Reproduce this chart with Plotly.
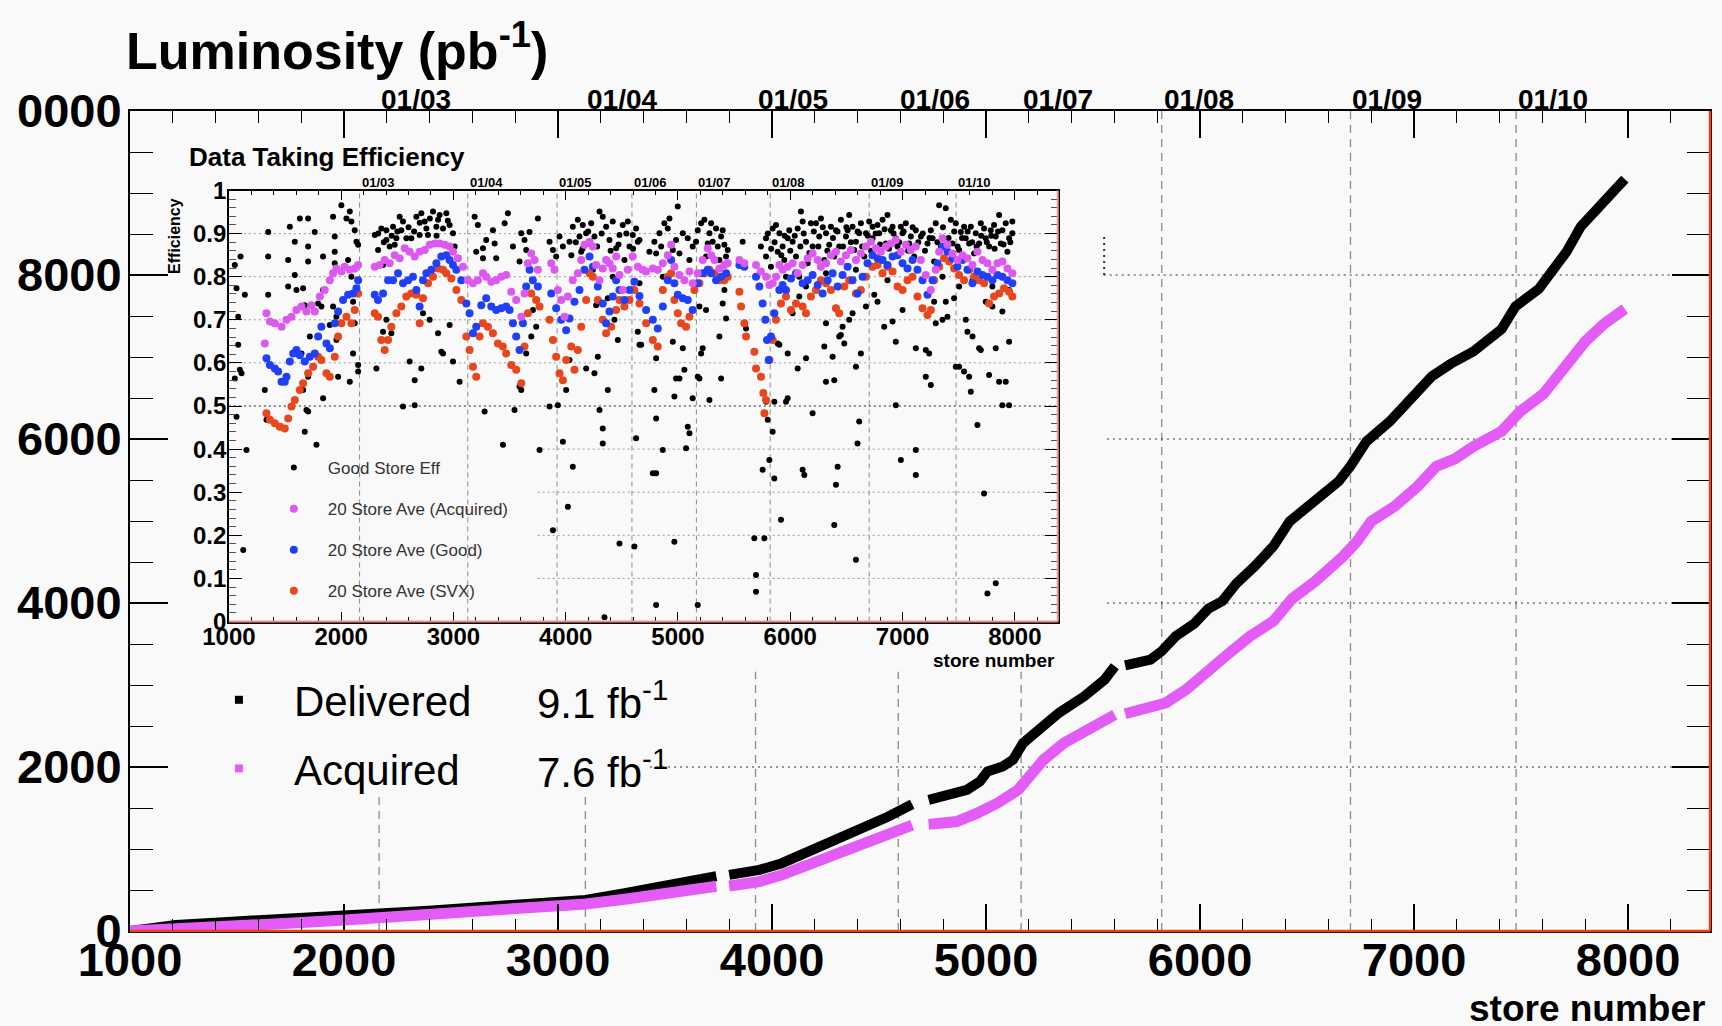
import plotly.graph_objects as go

# ---------------- data: main cumulative luminosity (pb^-1) ----------------
DEL_STORE = [1000, 1215, 1477, 1740, 2002, 2185, 2395, 2657, 2919, 3129,
             3312, 3469, 3601, 3740, None, 3800, 3941, 4046, 4151, 4282,
             4413, 4544, 4655, None, 4732, 4816, 4911, 4971, 5007, 5078,
             5126, 5173, 5245, 5340, 5459, 5554, 5602, None, 5650, 5769,
             5821, 5887, 5973, 6038, 6104, 6169, 6256, 6343, 6419, 6539,
             6648, 6702, 6778, 6887, 6974, 7083, 7170, 7278, 7409, 7474,
             7583, 7626, 7713, 7779, 7866, 7931, 7985]
DEL_LUMI = [0, 73, 114, 143, 183, 216, 248, 289, 338, 379,
            460, 521, 602, 668, None, 684, 745, 827, 949, 1071,
            1234, 1396, 1545, None, 1600, 1661, 1722, 1824, 1946, 2007,
            2088, 2292, 2455, 2659, 2862, 3065, 3228, None, 3240, 3310,
            3413, 3596, 3748, 3930, 4022, 4236, 4448, 4692, 4996, 5240,
            5484, 5667, 5971, 6215, 6458, 6763, 6915, 7068, 7341, 7616,
            7829, 7981, 8285, 8590, 8834, 9017, 9170]

ACQ_STORE = [1000, 1215, 1477, 1740, 2002, 2185, 2395, 2657, 2919, 3129,
             3312, 3469, 3601, 3740, None, 3800, 3941, 4046, 4151, 4282,
             4413, 4544, 4655, None, 4732, 4863, 4959, 5054, 5150, 5197,
             5269, 5364, 5483, 5602, None, 5650, 5756, 5840, 5935, 6045,
             6147, 6234, 6343, 6430, 6539, 6669, 6734, 6800, 6909, 7017,
             7104, 7191, 7278, 7409, 7496, 7605, 7713, 7800, 7887, 7985]
ACQ_LUMI = [0, 20, 53, 94, 134, 167, 195, 236, 277, 330,
            387, 440, 501, 545, None, 548, 602, 684, 786, 908,
            1030, 1172, 1290, None, 1300, 1335, 1437, 1560, 1722, 1885,
            2088, 2292, 2455, 2638, None, 2650, 2720, 2781, 2943, 3200,
            3413, 3596, 3779, 4052, 4266, 4570, 4753, 4996, 5178, 5423,
            5667, 5758, 5910, 6093, 6336, 6550, 6884, 7189, 7402, 7585]

LEGEND_NAMES = ["Delivered", "Acquired"]
LEGEND_TOTALS = ["9.1 fb<sup>-1</sup>", "7.6 fb<sup>-1</sup>"]

# ---------------- data: inset efficiency ----------------
EFF_STORE = [
    1053, 1104, 1142, 1068, 1083, 1083, 1053, 1098, 1113, 1068,
    1157, 1128, 1350, 1350, 1320, 1335, 1350, 1543, 1587, 1528,
    1587, 1528, 1602, 1632, 1706, 1706, 1765, 1706, 1661, 1676,
    1721, 1647, 1706, 1661, 1691, 1706, 1676, 1780, 1795, 1839,
    1824, 1839, 1839, 1928, 1943, 1943, 2002, 1943, 1899, 1943,
    1958, 1973, 1958, 1928, 2047, 2091, 2121, 2136, 2062, 2091,
    2106, 2121, 2077, 2106, 2151, 2151, 2151, 2077, 2299, 2329,
    2358, 2403, 2462, 2521, 2551, 2536, 2492, 2477, 2373, 2403,
    2314, 2403, 2373, 2447, 2551, 2655, 2655, 2610, 2714, 2625,
    2670, 2714, 2744, 2759, 2699, 2818, 2877, 2937, 2966, 2848,
    2907, 2729, 2788, 2863, 2892, 2907, 2966, 2996, 3055, 3011,
    3189, 3218, 3263, 3292, 3203, 3352, 3367, 3456, 3485, 3530,
    3604, 3633, 3678, 3752, 3648, 3589, 3381, 3263, 3278, 3441,
    3544, 3604, 3589, 3767, 3693, 3737, 3648, 3708, 3856, 3886,
    3915, 3945, 3975, 4034, 4063, 4108, 4152, 4182, 4227, 4301,
    4360, 4390, 4449, 4508, 4553, 4597, 4642, 3856, 3930, 3975,
    4004, 4063, 4019, 3886, 4182, 4256, 4286, 4301, 4330, 4330,
    4375, 4479, 4612, 4627, 4642, 4657, 4434, 4375, 4464, 4271,
    4034, 4345, 4123, 4197, 4256, 4330, 4419, 4479, 4568, 4627,
    4138, 4523, 4419, 4242, 2432, 2581, 2773, 2863, 2996,
    4657, 4657, 4672, 4790, 4805, 4835, 4879, 4924, 4909, 4998,
    4820, 4865, 4954, 5043, 5087, 5131, 5176, 5206, 5235, 5280,
    5309, 5339, 5384, 5413, 5428, 5369, 5250, 5102, 4805, 4790,
    4805, 4776, 4805, 4865, 4954, 4983, 4968, 5013, 5043, 5057,
    5087, 5102, 5072, 5131, 5176, 5191, 5206, 5220, 5280, 5369,
    5384, 5428, 5398, 5413, 4968, 4805, 5176, 5191, 5250, 5576,
    5606, 5680, 5769, 5695, 5695, 5754, 5814, 5858, 5843, 5799,
    5784, 5858, 5977, 5962, 5903, 5888, 5977, 6066, 6140, 6199,
    6303, 6318, 6392, 6377, 6436, 6451, 6481, 6525, 6585, 6629,
    6614, 6599, 6422, 6407, 6392, 6110, 6125, 5917, 6585, 5739,
    5784, 5843, 5873, 5903, 5932, 5977, 6021, 6066, 6095, 6110,
    6140, 6184, 6229, 6273, 6318, 6362, 6407, 6451, 6496, 6525,
    6555, 6585, 6629, 6674, 6703, 6733, 6777, 6822, 6866, 6896,
    6940, 6985, 7029, 7074, 7118, 7252, 7296, 7326, 7385, 7430,
    7474, 7519, 7563, 7608, 7652, 7697, 7741, 7786, 7830, 7860,
    7889, 7919, 7949, 7978, 5962, 6021, 6080, 6140, 6229, 6318,
    6466, 6555, 6674, 6748, 6777, 6837, 6911, 6940, 7000, 7118,
    7207, 7237, 7252, 7207, 7296, 7356, 7400, 7459, 7474, 7504,
    7548, 7578, 7593, 7608, 7623, 7682, 7697, 7771, 7830, 7860,
    7919, 7889, 7949, 7949, 7800, 7889, 7667, 7563, 7385, 7281,
    7118, 7118, 6985, 6940, 7726, 7756, 7830, 7741, 5784, 5828,
    5888, 5947, 5991, 6051, 6155, 6199, 6258, 6303, 6347, 6392,
    6436, 6511, 6570, 6614, 6659, 6733, 6792, 6851, 6911, 6955,
    7000, 7059, 7104, 7163, 7222, 7267, 7341, 7445, 7504, 7548,
    7593, 7637, 7682, 7726, 7771, 7815, 7875, 7934, 7978, 7281,
    7623, 7800, 7949, 7504, 7356, 6866, 6585, 6318, 6080, 5843,
    4746, 4850, 4983, 5013, 5161, 5265, 5295, 5354, 5398, 5443,
    5800, 5830, 5860, 5920, 5950, 6000, 6040, 6090, 6120, 6170,
    6210, 6250, 6290, 6330, 6380, 6420, 6470, 6500, 6540, 6600,
    6640, 6690, 6720, 6760, 6800, 6840, 6880, 6920, 6970, 7010,
    7050, 7090, 7140, 7180, 7200, 7240, 7310, 7360, 7410, 7460,
    7490, 7530, 7580, 7620, 7660, 7700, 7750, 7790, 7820, 7850,
    7900, 7960, 4050, 4090, 4150, 4200, 4280, 4320, 4400, 4470,
    4540, 4600, 2330, 2380, 2450, 2500, 2600, 2650, 2700, 2790,
    2850, 2950]
EFF_VALUE = [
    .827, .847, .758, .773, .707, .642, .564, .584, .576, .475,
    .398, .166, .847, .758, .537, .468, .904, .916, .881, .839,
    .804, .777, .769, .935, .935, .870, .904, .835, .773, .734,
    .661, .622, .568, .537, .491, .487, .440, .410, .738, .518,
    .731, .769, .847, .939, .893, .858, .966, .831, .688, .614,
    .653, .568, .707, .731, .935, .928, .908, .881, .839, .800,
    .742, .692, .556, .622, .595, .580, .874, .951, .897, .862,
    .912, .908, .916, .939, .928, .908, .889, .874, .827, .885,
    .587, .700, .672, .669, .499, .502, .560, .603, .587, .889,
    .939, .947, .928, .912, .897, .951, .943, .947, .920, .916,
    .912, .715, .700, .669, .626, .622, .688, .603, .556, .870,
    .939, .920, .866, .885, .858, .908, .877, .924, .947, .870,
    .901, .885, .904, .935, .862, .835, .843, .843, .487, .410,
    .491, .537, .545, .398, .661, .684, .622, .723, .881, .862,
    .847, .893, .870, .881, .916, .932, .920, .901, .924, .951,
    .916, .885, .866, .920, .928, .897, .881, .499, .502, .417,
    .537, .359, .266, .212, .587, .576, .614, .491, .448, .413,
    .537, .181, .174, .425, .672, .642, .700, .750, .653, .734,
    .607, .010, .893, .877, .893, .939, .928, .897, .870, .912,
    .858, .839, .800, .816, .870, .889, .897, .932, .901,
    .885, .785, .642, .881, .854, .901, .924, .935, .912, .963,
    .816, .800, .862, .901, .889, .870, .908, .924, .932, .901,
    .881, .912, .893, .874, .847, .839, .847, .839, .611, .537,
    .471, .344, .344, .398, .649, .564, .522, .564, .634, .584,
    .452, .437, .402, .518, .568, .564, .622, .634, .514, .661,
    .564, .703, .738, .769, .185, .038, .038, .731, .723, .881,
    .680, .193, .193, .108, .069, .352, .375, .332, .440, .468,
    .510, .510, .518, .510, .642, .645, .622, .587, .611, .483,
    .638, .556, .560, .614, .661, .665, .645, .700, .591, .622,
    .464, .413, .359, .317, .224, .352, .340, .236, .143, .870,
    .889, .912, .920, .901, .870, .889, .881, .912, .951, .928,
    .881, .924, .924, .935, .901, .916, .908, .932, .893, .943,
    .916, .881, .924, .901, .928, .889, .920, .932, .943, .908,
    .889, .916, .924, .893, .908, .908, .924, .966, .959, .932,
    .924, .904, .889, .916, .901, .924, .889, .908, .893, .943,
    .908, .924, .889, .928, .800, .715, .754, .777, .769, .692,
    .684, .715, .731, .758, .742, .684, .696, .649, .723, .634,
    .630, .622, .549, .568, .692, .700, .707, .750, .591, .591,
    .580, .672, .568, .533, .661, .634, .630, .572, .634, .556,
    .556, .502, .502, .649, .731, .719, .456, .700, .742, .742,
    .398, .340, .375, .502, .297, .065, .089, .742, .847, .823,
    .858, .839, .908, .847, .831, .870, .893, .839, .874, .847,
    .870, .908, .862, .901, .847, .916, .901, .877, .916, .870,
    .901, .877, .847, .893, .877, .889, .870, .877, .862, .916,
    .877, .854, .877, .912, .870, .920, .877, .858, .901, .835,
    .792, .777, .769, .777, .800, .792, .816, .808, .800, .785,
    .858, .870, .885, .854, .881, .877, .924, .870, .908, .862,
    .900, .865, .880, .850, .895, .860, .895, .870, .900, .855,
    .905, .870, .915, .860, .890, .905, .870, .915, .880, .905,
    .870, .895, .860, .900, .875, .910, .865, .900, .880, .905,
    .860, .915, .880, .900, .860, .890, .880, .915, .890, .905,
    .870, .890, .905, .880, .870, .895, .880, .895, .865, .905,
    .875, .880, .850, .880, .865, .905, .870, .900, .860, .875,
    .900, .865, .900, .880, .895, .905, .915, .905, .925, .935,
    .895, .930]

ACQ_AVE_STORE = [
    1320, 1335, 1365, 1409, 1469, 1513, 1558, 1602, 1647, 1691,
    1736, 1765, 1810, 1854, 1899, 1928, 1958, 2002, 2032, 2077,
    2121, 2151, 2299, 2343, 2388, 2432, 2477, 2521, 2566, 2610,
    2655, 2699, 2744, 2788, 2833, 2877, 2922, 2966, 2996, 3040,
    3085, 3129, 3174, 3218, 3263, 3292, 3337, 3381, 3426, 3470,
    3515, 3559, 3604, 3633, 3663, 3693, 3722, 3752, 3871, 3900,
    3930, 3960, 3989, 4019, 4063, 4108, 4138, 4167, 4212, 4242,
    4271, 4301, 4330, 4360, 4390, 4419, 4449, 4479, 4508, 4553,
    4597, 4642, 4686, 4716, 4776, 4820, 4865, 4909, 4939, 4968,
    5013, 5057, 5102, 5131, 5176, 5220, 5265, 5295, 5324, 5369,
    5413, 5443, 5547, 5591, 5695, 5739, 5784, 5814, 5843, 5873,
    5903, 5932, 5977, 6021, 6066, 6110, 6155, 6199, 6244, 6273,
    6318, 6362, 6407, 6451, 6496, 6540, 6585, 6629, 6674, 6718,
    6763, 6807, 6851, 6896, 6940, 6985, 7029, 7074, 7118, 7163,
    7207, 7252, 7296, 7326, 7356, 7400, 7445, 7489, 7534, 7578,
    7623, 7667, 7712, 7756, 7800, 7845, 7889, 7934, 7978]
ACQ_AVE_EFF = [
    .645, .715, .696, .692, .684, .700, .707, .723, .731, .719,
    .734, .719, .754, .769, .792, .808, .819, .812, .823, .816,
    .819, .827, .823, .827, .839, .831, .850, .843, .866, .858,
    .847, .858, .862, .874, .877, .877, .874, .870, .858, .843,
    .823, .792, .785, .792, .808, .800, .788, .792, .800, .804,
    .765, .746, .707, .761, .831, .854, .839, .816, .831, .816,
    .769, .746, .707, .754, .792, .808, .839, .874, .881, .870,
    .827, .792, .819, .839, .831, .819, .847, .804, .769, .816,
    .847, .823, .816, .812, .819, .816, .831, .850, .874, .823,
    .804, .792, .812, .785, .808, .839, .866, .850, .839, .819,
    .827, .831, .839, .831, .827, .812, .800, .781, .785, .800,
    .827, .816, .823, .831, .808, .827, .843, .854, .839, .823,
    .831, .850, .858, .835, .850, .862, .839, .854, .870, .881,
    .866, .858, .870, .877, .885, .858, .874, .862, .870, .839,
    .804, .769, .816, .858, .889, .874, .854, .839, .850, .843,
    .827, .858, .839, .831, .816, .831, .835, .819, .808]

GOOD_AVE_STORE = [
    1335, 1365, 1409, 1439, 1469, 1498, 1513, 1543, 1573, 1602,
    1632, 1676, 1721, 1765, 1795, 1824, 1869, 1899, 1943, 1973,
    2017, 2062, 2106, 2136, 2151, 2299, 2328, 2373, 2418, 2462,
    2507, 2551, 2596, 2640, 2670, 2699, 2729, 2759, 2803, 2848,
    2892, 2937, 2966, 2996, 3026, 3070, 3115, 3144, 3174, 3203,
    3248, 3292, 3337, 3381, 3426, 3470, 3500, 3530, 3559, 3589,
    3619, 3648, 3678, 3707, 3752, 3871, 3915, 3960, 4004, 4034,
    4078, 4123, 4167, 4212, 4242, 4286, 4330, 4360, 4390, 4419,
    4449, 4479, 4523, 4568, 4612, 4657, 4716, 4776, 4820, 4865,
    4909, 4939, 4968, 4998, 5043, 5087, 5131, 5176, 5220, 5265,
    5295, 5339, 5384, 5428, 5547, 5591, 5695, 5725, 5754, 5778,
    5793, 5808, 5828, 5858, 5903, 5932, 5962, 6006, 6051, 6110,
    6155, 6199, 6244, 6288, 6333, 6377, 6422, 6466, 6511, 6555,
    6599, 6644, 6688, 6733, 6777, 6822, 6866, 6911, 6955, 7000,
    7044, 7089, 7133, 7178, 7222, 7267, 7311, 7356, 7400, 7445,
    7489, 7534, 7578, 7623, 7667, 7712, 7756, 7800, 7845, 7889,
    7934, 7978]
GOOD_AVE_EFF = [
    .611, .595, .587, .580, .556, .556, .568, .603, .622, .630,
    .618, .603, .614, .622, .661, .684, .645, .634, .692, .719,
    .746, .758, .761, .773, .792, .758, .746, .761, .792, .792,
    .808, .785, .792, .800, .769, .731, .792, .808, .816, .831,
    .847, .850, .839, .827, .816, .792, .738, .715, .669, .684,
    .734, .750, .731, .723, .727, .731, .723, .692, .661, .630,
    .692, .777, .816, .792, .777, .761, .727, .700, .676, .703,
    .742, .769, .816, .847, .823, .777, .738, .692, .719, .754,
    .792, .769, .746, .769, .788, .755, .723, .700, .680, .731,
    .792, .839, .785, .758, .750, .746, .723, .785, .808, .816,
    .808, .792, .800, .808, .827, .823, .800, .777, .738, .700,
    .653, .607, .661, .715, .769, .781, .769, .796, .808, .785,
    .792, .804, .781, .761, .792, .808, .777, .804, .823, .792,
    .761, .800, .831, .850, .843, .839, .827, .847, .850, .831,
    .819, .839, .816, .792, .758, .792, .831, .870, .858, .843,
    .823, .839, .816, .785, .812, .804, .800, .792, .804, .800,
    .792, .785]

SVX_AVE_STORE = [
    1335, 1365, 1409, 1454, 1498, 1528, 1558, 1587, 1632, 1661,
    1706, 1750, 1795, 1824, 1869, 1899, 1943, 1973, 2002, 2047,
    2091, 2121, 2151, 2299, 2328, 2358, 2388, 2418, 2447, 2492,
    2536, 2580, 2625, 2670, 2699, 2729, 2774, 2818, 2863, 2907,
    2937, 2981, 3026, 3070, 3115, 3144, 3174, 3203, 3233, 3263,
    3307, 3352, 3396, 3440, 3470, 3515, 3559, 3604, 3633, 3663,
    3693, 3737, 3767, 3856, 3886, 3915, 3945, 3975, 4004, 4049,
    4078, 4108, 4138, 4182, 4212, 4242, 4286, 4330, 4360, 4405,
    4449, 4479, 4523, 4568, 4612, 4657, 4716, 4776, 4820, 4865,
    4909, 4939, 4968, 4998, 5028, 5072, 5102, 5146, 5191, 5235,
    5280, 5324, 5369, 5413, 5443, 5547, 5562, 5591, 5606, 5680,
    5695, 5739, 5760, 5770, 5784, 5814, 5843, 5873, 5917, 5962,
    6006, 6051, 6110, 6140, 6184, 6229, 6273, 6318, 6362, 6407,
    6436, 6481, 6525, 6585, 6629, 6674, 6733, 6777, 6822, 6866,
    6911, 6955, 7000, 7044, 7089, 7133, 7178, 7222, 7252, 7281,
    7326, 7370, 7415, 7459, 7504, 7548, 7593, 7637, 7682, 7726,
    7771, 7815, 7860, 7904, 7949, 7978]
SVX_AVE_EFF = [
    .483, .468, .460, .452, .448, .471, .499, .514, .537, .553,
    .576, .591, .614, .607, .576, .568, .614, .661, .692, .707,
    .692, .723, .761, .715, .707, .653, .630, .653, .684, .715,
    .731, .754, .761, .758, .692, .750, .785, .800, .819, .816,
    .808, .796, .769, .746, .661, .630, .591, .568, .661, .692,
    .684, .669, .645, .638, .622, .595, .584, .553, .638, .715,
    .761, .746, .731, .700, .653, .614, .576, .560, .607, .638,
    .584, .630, .684, .746, .808, .800, .746, .700, .669, .684,
    .723, .746, .731, .746, .769, .738, .692, .653, .638, .769,
    .800, .808, .746, .715, .692, .684, .707, .769, .785, .808,
    .816, .808, .792, .792, .800, .765, .731, .692, .661, .626,
    .587, .568, .530, .483, .514, .607, .653, .700, .738, .754,
    .723, .738, .731, .715, .754, .769, .792, .785, .769, .727,
    .715, .777, .792, .761, .769, .800, .823, .827, .808, .823,
    .812, .777, .769, .792, .800, .754, .727, .711, .723, .792,
    .823, .843, .835, .819, .804, .792, .816, .800, .792, .785,
    .738, .754, .761, .773, .765, .754]

INSET_NAMES = ["Good Store Eff", "20 Store Ave (Acquired)",
               "20 Store Ave (Good)", "20 Store Ave (SVX)"]

# store number at which each year starts
DATE_STORES = [2164, 3128, 3923, 4590, 5164, 5821, 6703, 7477]
DATE_LABELS = ["01/03", "01/04", "01/05", "01/06", "01/07", "01/08", "01/09", "01/10"]

X_TICKS = [1000, 2000, 3000, 4000, 5000, 6000, 7000, 8000]
Y_TICKS = [0, 2000, 4000, 6000, 8000, 10000]
Y_TICKTEXT = ["0", "2000", "4000", "6000", "8000", "0000"]
EFF_TICKS = [0, 0.1, 0.2, 0.3, 0.4, 0.5, 0.6, 0.7, 0.8, 0.9, 1]
EFF_TICKTEXT = ["0", "0.1", "0.2", "0.3", "0.4", "0.5", "0.6", "0.7", "0.8", "0.9", "1"]

# ---------------- layout geometry ----------------
W, H = 1722, 1026
ML, MR, MT, MB = 130, 10, 111, 95
PW, PH = W - ML - MR, H - MT - MB
XMAX = 8383


def fx(p):
    return (p - ML) / PW


def fy(p):
    return (H - MB - p) / PH


FONT = "Liberation Sans, Arial, Helvetica, sans-serif"
BG = "#f9f9f9"
MAG = "#e35cf5"
MAG_IN = "#dc58f0"
BLUE = "#2040f8"
RED = "#e8461c"
FRAME_RED = "#e5431a"
DASH_GREY = "#8a8a8a"

fig = go.Figure()

fig.add_trace(go.Scatter(x=DEL_STORE, y=DEL_LUMI, mode="lines",
                         line=dict(color="black", width=10), showlegend=False,
                         hoverinfo="skip", xaxis="x", yaxis="y"))
fig.add_trace(go.Scatter(x=ACQ_STORE, y=ACQ_LUMI, mode="lines",
                         line=dict(color=MAG, width=11), showlegend=False,
                         hoverinfo="skip", xaxis="x", yaxis="y"))
for name, col, grp in zip(LEGEND_NAMES, ["black", MAG], ["g_del", "g_acq"]):
    fig.add_trace(go.Scatter(x=[None], y=[None], mode="markers", name=name,
                             marker=dict(symbol="square", size=8, color=col),
                             legend="legend", legendgroup=grp,
                             xaxis="x", yaxis="y"))

fig.add_trace(go.Scatter(x=EFF_STORE, y=EFF_VALUE, mode="markers", name=INSET_NAMES[0],
                         marker=dict(color="black", size=6), legend="legend2",
                         legendgroup="i1", legendrank=1, xaxis="x2", yaxis="y2"))
fig.add_trace(go.Scatter(x=SVX_AVE_STORE, y=SVX_AVE_EFF, mode="markers", name=INSET_NAMES[3],
                         marker=dict(color=RED, size=8), legend="legend2",
                         legendgroup="i4", legendrank=4, xaxis="x2", yaxis="y2"))
fig.add_trace(go.Scatter(x=GOOD_AVE_STORE, y=GOOD_AVE_EFF, mode="markers", name=INSET_NAMES[2],
                         marker=dict(color=BLUE, size=8), legend="legend2",
                         legendgroup="i3", legendrank=3, xaxis="x2", yaxis="y2"))
fig.add_trace(go.Scatter(x=ACQ_AVE_STORE, y=ACQ_AVE_EFF, mode="markers", name=INSET_NAMES[1],
                         marker=dict(color=MAG_IN, size=8), legend="legend2",
                         legendgroup="i2", legendrank=2, xaxis="x2", yaxis="y2"))

shapes = []
main_dash_top = [1637, 1637, 3163, 3163, 3163, 10000, 10000, 10000]
for s, top in zip(DATE_STORES, main_dash_top):
    shapes.append(dict(type="line", xref="x", yref="y", x0=s, x1=s, y0=0, y1=top,
                       line=dict(color=DASH_GREY, width=1.3, dash="8px,6px"), layer="below"))
for yv, x0 in [(2000, 3430), (4000, 5565), (6000, 5565), (8000, 5550)]:
    shapes.append(dict(type="line", xref="x", yref="y", x0=x0, x1=XMAX, y0=yv, y1=yv,
                       line=dict(color="#333", width=1, dash="2px,4px"), layer="below"))
shapes.append(dict(type="line", xref="x", yref="y", x0=5552, x1=5552, y0=8000, y1=8500,
                   line=dict(color="#333", width=2, dash="2px,4px"), layer="below"))
for s in DATE_STORES:
    shapes.append(dict(type="line", xref="x2", yref="y2", x0=s, x1=s, y0=0, y1=1,
                       line=dict(color=DASH_GREY, width=1, dash="5px,4px"), layer="below"))
for yv in [0.1, 0.2, 0.3, 0.4]:
    shapes.append(dict(type="line", xref="x2", yref="y2", x0=3750, x1=XMAX, y0=yv, y1=yv,
                       line=dict(color="#9a9a9a", width=1, dash="2px,3px"), layer="below"))
for yv in [0.6, 0.7, 0.8, 0.9]:
    shapes.append(dict(type="line", xref="x2", yref="y2", x0=1000, x1=XMAX, y0=yv, y1=yv,
                       line=dict(color="#9a9a9a", width=1, dash="2px,3px"), layer="below"))
shapes.append(dict(type="line", xref="x2", yref="y2", x0=1000, x1=XMAX, y0=0.5, y1=0.5,
                   line=dict(color="#222", width=1, dash="2px,3px"), layer="below"))
shapes.append(dict(type="line", xref="paper", yref="paper", x0=1, x1=1, y0=0, y1=1,
                   line=dict(color=FRAME_RED, width=2.5), layer="above"))
shapes.append(dict(type="line", xref="paper", yref="paper", x0=0, x1=1, y0=0, y1=0,
                   line=dict(color=FRAME_RED, width=2.5), layer="above"))
shapes.append(dict(type="line", xref="x2 domain", yref="y2 domain", x0=1, x1=1, y0=0, y1=1,
                   line=dict(color="#ef8f8f", width=2), layer="above"))
shapes.append(dict(type="line", xref="x2 domain", yref="y2 domain", x0=0, x1=1, y0=0, y1=0,
                   line=dict(color="#ef8f8f", width=2), layer="above"))

ann = []
ann.append(dict(text="<b>Luminosity (pb<sup>-1</sup>)</b>", xref="paper", yref="paper",
                x=fx(124), y=fy(47), xanchor="left", yanchor="middle", showarrow=False,
                font=dict(family=FONT, size=52, color="black")))
for s, lab in zip(DATE_STORES, DATE_LABELS):
    ann.append(dict(text="<b>%s</b>" % lab, xref="x", yref="paper", x=s, y=1,
                    xanchor="left", yanchor="bottom", yshift=-6, showarrow=False,
                    font=dict(family=FONT, size=28, color="black")))
ann.append(dict(text="<b>store number</b>", xref="paper", yref="paper", x=fx(1709), y=fy(1008),
                xanchor="right", yanchor="middle", showarrow=False,
                font=dict(family=FONT, size=37, color="black")))
for txt, ypx in zip(LEGEND_TOTALS, [700, 769]):
    ann.append(dict(text=txt, xref="paper", yref="paper", x=fx(536), y=fy(ypx),
                    xanchor="left", yanchor="middle", showarrow=False,
                    font=dict(family=FONT, size=42, color="black")))
ann.append(dict(text="<b>Data Taking Efficiency</b>", xref="paper", yref="paper",
                x=fx(187), y=fy(157), xanchor="left", yanchor="middle", showarrow=False,
                font=dict(family=FONT, size=26, color="black")))
ann.append(dict(text="<b>Efficiency</b>", xref="paper", yref="paper", textangle=-90,
                x=fx(174), y=fy(236), xanchor="center", yanchor="middle", showarrow=False,
                font=dict(family=FONT, size=16, color="black")))
for s, lab in zip(DATE_STORES, DATE_LABELS):
    ann.append(dict(text="<b>%s</b>" % lab, xref="x2", yref="y2 domain", x=s, y=1,
                    xanchor="left", yanchor="bottom", yshift=-1, showarrow=False,
                    font=dict(family=FONT, size=13, color="black")))
ann.append(dict(text="<b>store number</b>", xref="paper", yref="paper", x=fx(1058), y=fy(661),
                xanchor="right", yanchor="middle", showarrow=False,
                font=dict(family=FONT, size=19, color="black")))

tick_font_main = dict(family=FONT, size=47, color="black", weight="bold")
tick_font_in = dict(family=FONT, size=24, color="black", weight="bold")

fig.update_layout(
    width=W, height=H,
    margin=dict(l=ML, r=MR, t=MT, b=MB, pad=0),
    paper_bgcolor=BG, plot_bgcolor=BG,
    showlegend=True,
    xaxis=dict(domain=[0, 1], range=[1000, XMAX], anchor="y",
               tickmode="array", tickvals=X_TICKS, ticktext=[str(v) for v in X_TICKS],
               ticks="inside", ticklen=27, tickwidth=1.5, tickcolor="black",
               minor=dict(tickmode="linear", tick0=1000, dtick=200, ticks="inside",
                          ticklen=12, tickwidth=1, tickcolor="black", showgrid=False),
               showline=True, linecolor="black", linewidth=2, mirror="ticks",
               showgrid=False, zeroline=False, tickfont=tick_font_main,
               ticklabelstandoff=-13, fixedrange=True),
    yaxis=dict(domain=[0, 1], range=[0, 10000], anchor="x",
               tickmode="array", tickvals=Y_TICKS, ticktext=Y_TICKTEXT,
               ticks="inside", ticklen=38, tickwidth=1.5, tickcolor="black",
               minor=dict(tickmode="linear", tick0=0, dtick=500, ticks="inside",
                          ticklen=23, tickwidth=1, tickcolor="black", showgrid=False),
               showline=True, linecolor="black", linewidth=2, mirror="ticks",
               showgrid=False, zeroline=False, tickfont=tick_font_main,
               ticklabelstandoff=-3, fixedrange=True),
    xaxis2=dict(domain=[fx(229), fx(1059)], range=[1000, XMAX], anchor="y2",
                tickmode="array", tickvals=X_TICKS, ticktext=[str(v) for v in X_TICKS],
                ticks="inside", ticklen=10, tickwidth=1, tickcolor="black",
                minor=dict(tickmode="linear", tick0=1000, dtick=200, ticks="inside",
                           ticklen=5, tickwidth=1, tickcolor="black", showgrid=False),
                showline=True, linecolor="black", linewidth=1.5, mirror="ticks",
                showgrid=False, zeroline=False, tickfont=tick_font_in,
                ticklabelstandoff=-7, fixedrange=True),
    yaxis2=dict(domain=[fy(621.5), fy(190.5)], range=[0, 1], anchor="x2",
                tickmode="array", tickvals=EFF_TICKS, ticktext=EFF_TICKTEXT,
                ticks="inside", ticklen=13, tickwidth=1, tickcolor="black",
                minor=dict(tickmode="linear", tick0=0, dtick=0.02, ticks="inside",
                           ticklen=7, tickwidth=1, tickcolor="#555", showgrid=False),
                showline=True, linecolor="black", linewidth=1.5, mirror="ticks",
                showgrid=False, zeroline=False, tickfont=tick_font_in,
                ticklabelstandoff=-4, fixedrange=True),
    legend=dict(x=fx(184), y=fy(666), xanchor="left", yanchor="top",
                font=dict(family=FONT, size=42, color="black"),
                itemwidth=100, tracegroupgap=11, traceorder="grouped",
                bgcolor="rgba(0,0,0,0)", borderwidth=0),
    legend2=dict(x=fx(260), y=fy(450), xanchor="left", yanchor="top",
                 font=dict(family=FONT, size=17, color="#333"),
                 itemwidth=58, tracegroupgap=16, traceorder="grouped",
                 bgcolor="rgba(0,0,0,0)", borderwidth=0),
    shapes=shapes,
    annotations=ann,
)

fig.write_html("out.html",
               config={"displayModeBar": False},
               post_script="document.body.style.margin='0';"
                           "document.body.style.overflow='hidden';")
